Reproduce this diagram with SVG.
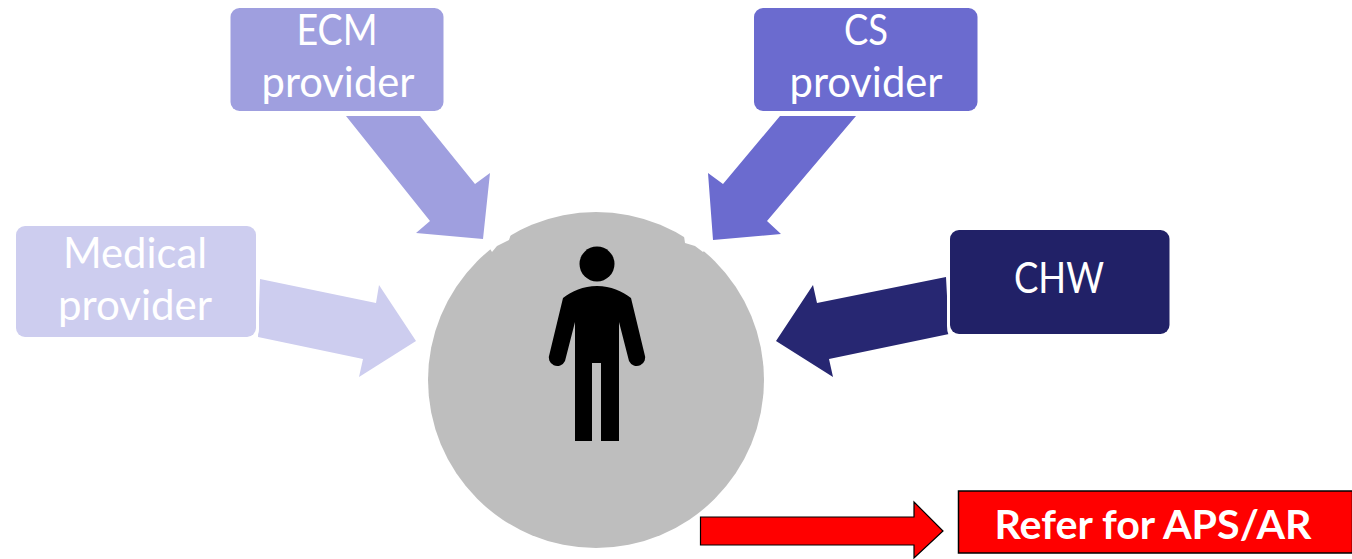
<svg xmlns="http://www.w3.org/2000/svg" width="1352" height="559" viewBox="0 0 1352 559">
<style>
text{font-family:"Lato","Open Sans","Liberation Sans",sans-serif;fill:#fff;text-anchor:middle}
.l{font-size:43px}
.b{font-weight:700;font-size:40px}
</style>
<rect width="1352" height="559" fill="#fff"/>
<g id="person-circle">
<circle cx="596" cy="380" r="168" fill="#bebebe"/>
<path d="M489 247L492 252L497 246L509 240L511 234L500 239Z M684 236L685 243L695 246L703 252L705 250L692 238Z" fill="#fff"/>
</g>
<g id="person">
<circle cx="597" cy="264" r="17.5" fill="#000"/>
<path d="M597 286C583 286 572 291 563 298L549.500 354A8 8 0 0 0 565 361L575 322V441H592V363H601V441H619V322L629 361A8 8 0 0 0 644.500 354L631 298C622 291 611 286 597 286Z" fill="#000"/>
</g>
<g id="connectors">
<path d="M346 116H420L475 184L490 173L483 239L416 233L430 221Z" fill="#9f9fdf"/>
<path d="M780 116H856L767 221L781 234L713 240L708 173L723 184Z" fill="#6b6bcf"/>
<path d="M260 279L376 303L379 285L416 341L359 377L363 359L258 337Z" fill="#cdcdef"/>
<path d="M946 277L817 303L813 285L776 341L833 377L829 359L949 334Z" fill="#272772"/>
<path d="M700.500 517H914V502L943 531L914 558V545H700.500Z" fill="#f00" stroke="#000" stroke-width="1.2"/>
</g>
<g id="ecm-provider">
<rect x="230.500" y="8" width="213" height="103" rx="9" fill="#9f9fdf"/>
<text class="l" x="337" y="45" textLength="81" lengthAdjust="spacingAndGlyphs">ECM</text>
<text class="l" x="338" y="97" textLength="153" lengthAdjust="spacingAndGlyphs">provider</text>
</g>
<g id="cs-provider">
<rect x="754" y="8" width="223.500" height="103" rx="9" fill="#6b6bcf"/>
<text class="l" x="866" y="45" textLength="44" lengthAdjust="spacingAndGlyphs">CS</text>
<text class="l" x="866" y="97" textLength="153" lengthAdjust="spacingAndGlyphs">provider</text>
</g>
<g id="medical-provider">
<rect x="16" y="226" width="240" height="111" rx="9" fill="#cdcdef"/>
<path d="M257.500 279V329Q257.500 338 248 338.500" fill="none" stroke="#fff" stroke-width="3"/>
<text class="l" x="135" y="268" textLength="144" lengthAdjust="spacingAndGlyphs">Medical</text>
<text class="l" x="135" y="320" textLength="154" lengthAdjust="spacingAndGlyphs">provider</text>
</g>
<g id="chw">
<rect x="950" y="230" width="219.500" height="104" rx="9" fill="#212167"/>
<path d="M948.500 277V326Q948.500 335 953 337" fill="none" stroke="#fff" stroke-width="3"/>
<text class="l" x="1059" y="293" textLength="90" lengthAdjust="spacingAndGlyphs">CHW</text>
</g>
<g id="refer">
<rect x="958.500" y="491" width="394" height="62" fill="#f00" stroke="#000" stroke-width="1.500"/>
<text class="b" x="1153" y="539" textLength="317" lengthAdjust="spacingAndGlyphs">Refer for APS/AR</text>
</g>
</svg>
